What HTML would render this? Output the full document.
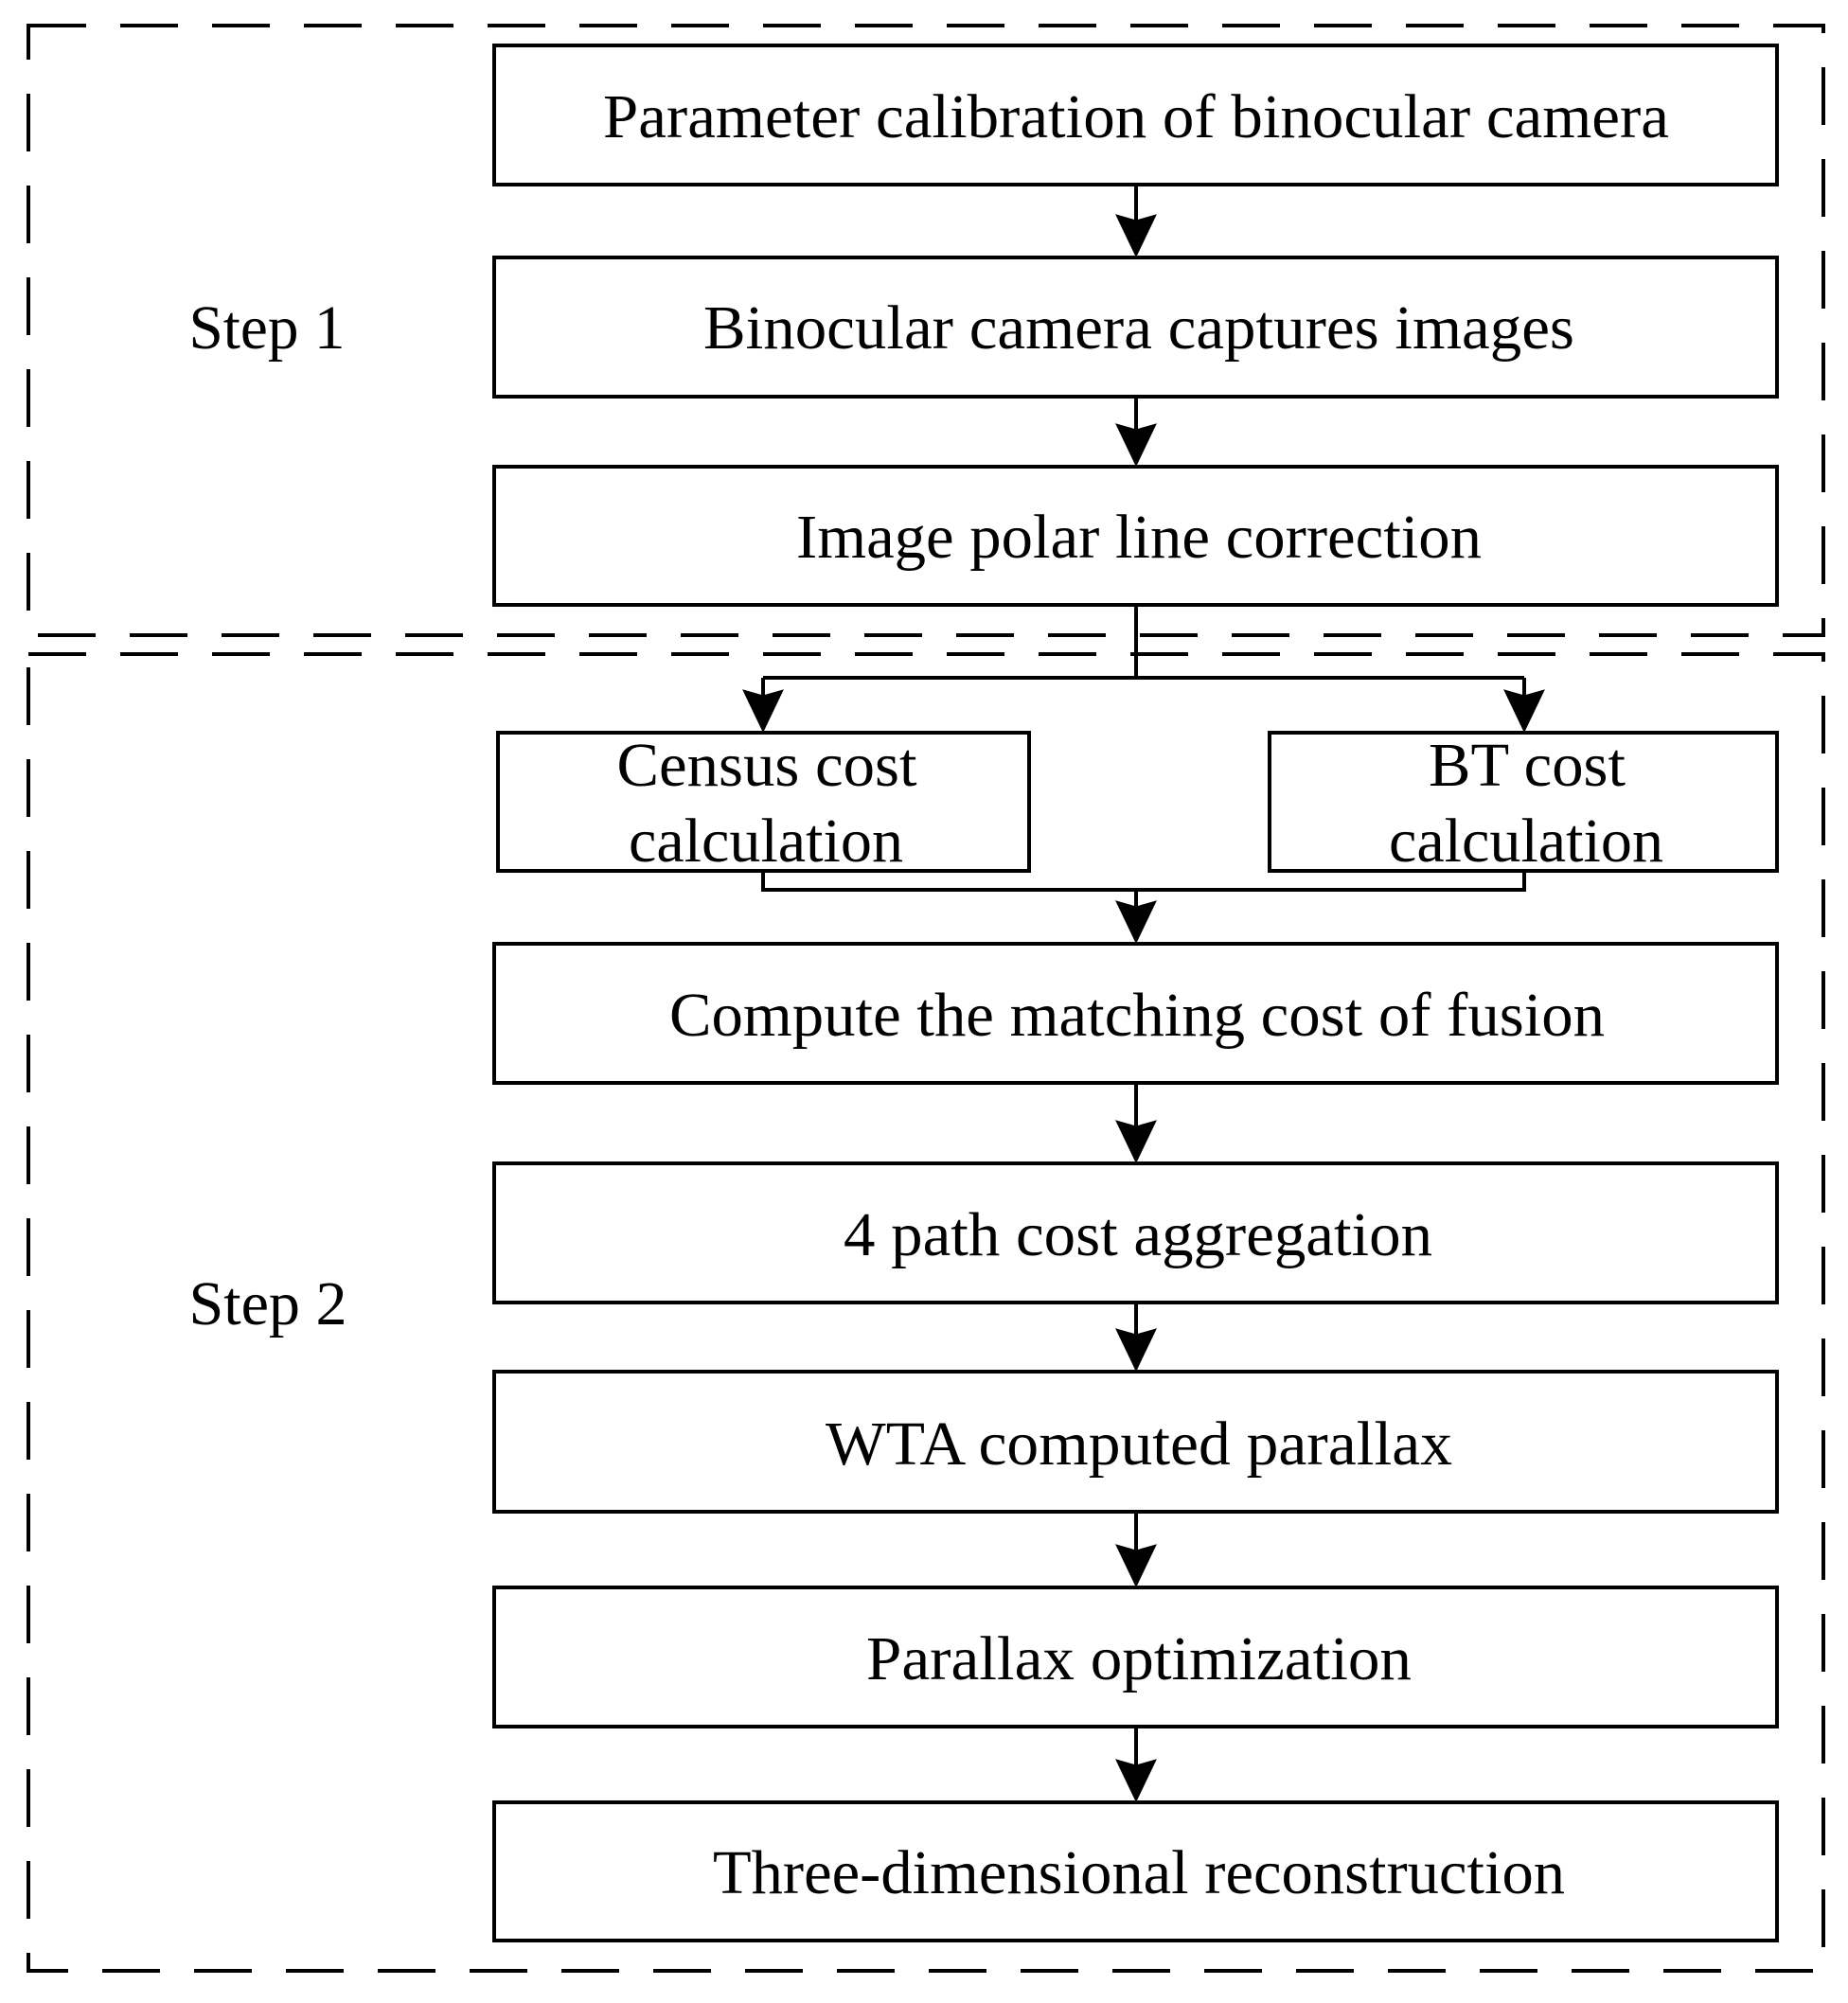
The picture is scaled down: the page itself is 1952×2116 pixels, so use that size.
<!DOCTYPE html>
<html><head><meta charset="utf-8"><style>html,body{margin:0;padding:0;background:#fff}svg{display:block}</style></head>
<body>
<svg width="1952" height="2116" viewBox="0 0 1952 2116" xmlns="http://www.w3.org/2000/svg" font-family="'Liberation Serif', serif" font-size="66" fill="#000">
<g fill="none" stroke="#000" stroke-width="4" stroke-dasharray="61 36">
<rect x="30" y="27" width="1896" height="644"/>
<rect x="30" y="691" width="1896" height="1391"/>
</g>
<g fill="#fff" stroke="#000" stroke-width="4">
<rect x="522" y="48" width="1355" height="147"/>
<rect x="522" y="272" width="1355" height="147"/>
<rect x="522" y="493" width="1355" height="146"/>
<rect x="526" y="774" width="561" height="146"/>
<rect x="1341" y="774" width="536" height="146"/>
<rect x="522" y="997" width="1355" height="147"/>
<rect x="522" y="1229" width="1355" height="147"/>
<rect x="522" y="1449" width="1355" height="148"/>
<rect x="522" y="1677" width="1355" height="147"/>
<rect x="522" y="1904" width="1355" height="146"/>
</g>
<g fill="none" stroke="#000" stroke-width="4">
<line x1="1200" y1="195" x2="1200" y2="250"/>
<line x1="1200" y1="419" x2="1200" y2="470"/>
<polyline points="1200,639 1200,716"/>
<polyline points="806,716 1610,716"/>
<line x1="806" y1="716" x2="806" y2="752"/>
<line x1="1610" y1="716" x2="1610" y2="752"/>
<polyline points="806,920 806,940 1610,940 1610,920"/>
<line x1="1200" y1="940" x2="1200" y2="975"/>
<line x1="1200" y1="1144" x2="1200" y2="1205"/>
<line x1="1200" y1="1376" x2="1200" y2="1425"/>
<line x1="1200" y1="1597" x2="1200" y2="1653"/>
<line x1="1200" y1="1824" x2="1200" y2="1880"/>
</g>
<g fill="#000" stroke="#000" stroke-width="1">
<path d="M1179,227 L1200,233 L1221,227 L1200,271 Z"/>
<path d="M1179,448 L1200,454 L1221,448 L1200,492 Z"/>
<path d="M785,729 L806,735 L827,729 L806,773 Z"/>
<path d="M1589,729 L1610,735 L1631,729 L1610,773 Z"/>
<path d="M1179,952 L1200,958 L1221,952 L1200,996 Z"/>
<path d="M1179,1184 L1200,1190 L1221,1184 L1200,1228 Z"/>
<path d="M1179,1404 L1200,1410 L1221,1404 L1200,1448 Z"/>
<path d="M1179,1632 L1200,1638 L1221,1632 L1200,1676 Z"/>
<path d="M1179,1859 L1200,1865 L1221,1859 L1200,1903 Z"/>
</g>
<g text-anchor="middle">
<text x="1200" y="145" textLength="1126" lengthAdjust="spacingAndGlyphs">Parameter calibration of binocular camera</text>
<text x="1203" y="368" textLength="920" lengthAdjust="spacingAndGlyphs">Binocular camera captures images</text>
<text x="1203" y="589" textLength="724" lengthAdjust="spacingAndGlyphs">Image polar line correction</text>
<text x="810" y="830" textLength="317" lengthAdjust="spacingAndGlyphs">Census cost</text>
<text x="809" y="910" textLength="290" lengthAdjust="spacingAndGlyphs">calculation</text>
<text x="1613" y="830" textLength="208" lengthAdjust="spacingAndGlyphs">BT cost</text>
<text x="1612" y="910" textLength="290" lengthAdjust="spacingAndGlyphs">calculation</text>
<text x="1201" y="1094" textLength="988" lengthAdjust="spacingAndGlyphs">Compute the matching cost of fusion</text>
<text x="1202" y="1326" textLength="622" lengthAdjust="spacingAndGlyphs">4 path cost aggregation</text>
<text x="1203" y="1547" textLength="662" lengthAdjust="spacingAndGlyphs">WTA computed parallax</text>
<text x="1203" y="1774" textLength="576" lengthAdjust="spacingAndGlyphs">Parallax optimization</text>
<text x="1203" y="2000" textLength="900" lengthAdjust="spacingAndGlyphs">Three-dimensional reconstruction</text>
<text x="282" y="368" textLength="165" lengthAdjust="spacingAndGlyphs">Step 1</text>
<text x="283" y="1399" textLength="167" lengthAdjust="spacingAndGlyphs">Step 2</text>
</g>
</svg>
</body></html>
